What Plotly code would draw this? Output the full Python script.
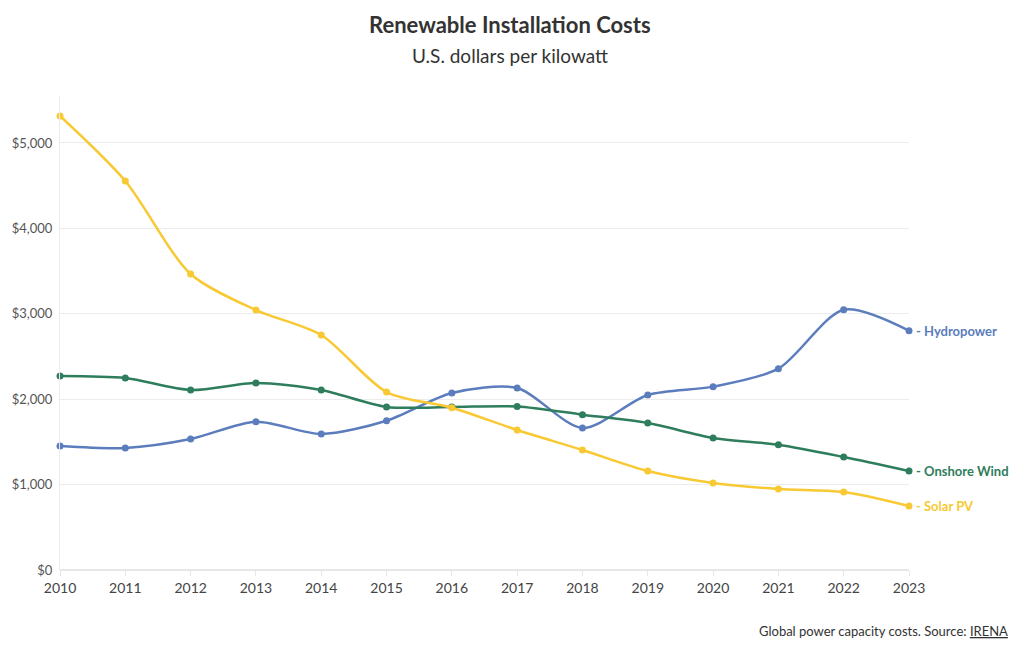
import plotly.graph_objects as go

years = list(range(2010, 2024))
hydropower = [1452, 1429, 1534, 1737, 1593, 1748, 2073, 2131, 1663, 2049, 2147, 2357, 3048, 2802]
onshore_wind = [2272, 2248, 2108, 2190, 2108, 1909, 1909, 1915, 1819, 1721, 1546, 1467, 1323, 1159]
solar_pv = [5316, 4555, 3466, 3044, 2752, 2084, 1900, 1639, 1405, 1159, 1019, 948, 913, 749]
y_ticks = [0, 1000, 2000, 3000, 4000, 5000]
y_tick_labels = ["$0", "$1,000", "$2,000", "$3,000", "$4,000", "$5,000"]

series = [
    ("Hydropower", hydropower, "#5b7dbd"),
    ("Onshore Wind", onshore_wind, "#2e7d5c"),
    ("Solar PV", solar_pv, "#f8c932"),
]

FONT = "Lato"
# page has an 8px body margin; figure is sized so it fits the 1020x650 window
W, H = 1012, 642
OFF = 8
L, R, T, B = 60 - OFF, W - (909 - OFF), 96 - OFF, H - (570 - OFF)
plot_h = H - T - B
plot_w = W - L - R
cx = (510 - 60) / plot_w  # page centre in paper coords

fig = go.Figure()
for name, vals, col in series:
    fig.add_trace(go.Scatter(
        x=years, y=vals, name=name, mode="lines+markers",
        line=dict(color=col, width=2.5, shape="spline", smoothing=0.8),
        marker=dict(color=col, size=7),
        cliponaxis=False, showlegend=False,
    ))
    fig.add_annotation(
        x=years[-1], y=vals[-1], xref="x", yref="y",
        text="- " + name, showarrow=False, xanchor="left", yanchor="middle",
        xshift=5, font=dict(family=FONT, size=13, color=col, weight="bold"),
    )

fig.update_layout(
    width=W, height=H,
    paper_bgcolor="white", plot_bgcolor="white",
    margin=dict(l=L, r=R, t=T, b=B, autoexpand=False),
    font=dict(family=FONT, color="#444"),
    xaxis=dict(
        range=[2010, 2023], tickmode="array", tickvals=years,
        ticktext=[str(y) for y in years], showgrid=False,
        ticks="outside", ticklen=5, tickcolor="#e6e6e6",
        showline=False, zeroline=False, automargin=False,
        tickfont=dict(family=FONT, size=14, color="#444"),
    ),
    yaxis=dict(
        range=[0, 5550], tickmode="array", tickvals=y_ticks, ticktext=y_tick_labels,
        gridcolor="#ececec", gridwidth=1, zeroline=True, zerolinecolor="#e6e6e6",
        showline=True, linecolor="#ececec", ticks="", automargin=False,
        ticklabelstandoff=4,
        tickfont=dict(family=FONT, size=13, color="#555"),
    ),
)
fig.add_annotation(
    x=cx, xref="paper", y=1 + (96 - 24) / plot_h, yref="paper",
    text="<b>Renewable Installation Costs</b>", showarrow=False,
    xanchor="center", yanchor="middle",
    font=dict(family=FONT, size=22, color="#333"),
)
fig.add_annotation(
    x=cx, xref="paper", y=1 + (96 - 55) / plot_h, yref="paper",
    text="U.S. dollars per kilowatt", showarrow=False,
    xanchor="center", yanchor="middle",
    font=dict(family=FONT, size=19, color="#333"),
)
fig.add_annotation(
    x=1, xref="paper", y=-(631 - 570) / plot_h, yref="paper",
    xanchor="right", yanchor="middle", xshift=101,
    text="Global power capacity costs. Source: <u>IRENA</u>", showarrow=False,
    font=dict(family=FONT, size=13, color="#333"),
)
fig.write_html("out.html")
